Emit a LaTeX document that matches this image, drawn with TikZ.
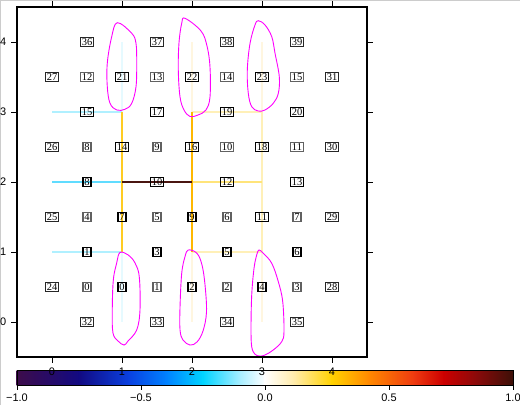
\documentclass[tikz,border=0pt]{standalone}
\usepackage{fontspec}
\setmainfont{Liberation Serif}
\setsansfont{Liberation Sans}
\definecolor{cbA}{HTML}{3D0C4A}
\definecolor{cbB}{HTML}{120A82}
\definecolor{cbC}{HTML}{0A40E0}
\definecolor{cbD}{HTML}{0080FF}
\definecolor{cbE}{HTML}{00D4FF}
\definecolor{cbF}{HTML}{A8EEFF}
\definecolor{cbG}{HTML}{FFFFFF}
\definecolor{cbH}{HTML}{FFEBA8}
\definecolor{cbI}{HTML}{FFD200}
\definecolor{cbJ}{HTML}{FF8800}
\definecolor{cbK}{HTML}{EE3A10}
\definecolor{cbL}{HTML}{CC0000}
\definecolor{cbM}{HTML}{8C0A0A}
\definecolor{cbN}{HTML}{3C1008}
\definecolor{lcyan}{HTML}{B0F0FF}
\definecolor{mcyan}{HTML}{60DCFF}
\definecolor{gold1}{HTML}{FFCC22}
\definecolor{gold2}{HTML}{FFB800}
\definecolor{brownln}{HTML}{4A1510}
\definecolor{pyel}{HTML}{FFF0B8}
\definecolor{myel}{HTML}{FFE47A}
\definecolor{fcyan}{HTML}{E6FAFF}
\definecolor{fyel}{HTML}{FFF6E0}
\definecolor{mag}{HTML}{FF00FF}
\tikzset{
  lab/.style={font=\fontsize{10.5}{10.5}\selectfont, inner xsep=1.4bp, inner ysep=1.3bp, text height=7.1bp, text depth=0bp},
  facebox/.style={lab, draw=black, line width=1.2bp},
  cellbox/.style={lab, draw=black!62, line width=1.2bp},
  bndbox/.style={lab, draw=black!85, line width=0.8bp},
  meshedge/.style={line width=2bp},
  faintedge/.style={line width=1.5bp},
  contourline/.style={mag, line width=0.9bp},
  axlab/.style={font=\sffamily\fontsize{11}{11}\selectfont, inner sep=0pt},
}
\begin{document}
\begin{tikzpicture}[x=1bp,y=1bp]
\useasboundingbox (0,0) rectangle (520,405);
% screenshot border
\draw[gray!40, line width=1.5bp] (0.5,0) -- (0.5,404.5) -- (520,404.5);

% colour bar
\begin{scope}
\foreach \va/\vb/\ca/\cb in {-1.0/-0.75/cbA/cbB, -0.75/-0.55/cbB/cbC, -0.55/-0.40/cbC/cbD, -0.40/-0.25/cbD/cbE, -0.25/-0.10/cbE/cbF, -0.10/0.0/cbF/cbG, 0.0/0.12/cbG/cbH, 0.12/0.27/cbH/cbI, 0.27/0.42/cbI/cbJ, 0.42/0.60/cbJ/cbK, 0.60/0.72/cbK/cbL, 0.72/0.85/cbL/cbM, 0.85/1.0/cbM/cbN}{
  \shade[left color=\ca, right color=\cb] ({265+248*\va-0.3},20) rectangle ({265+248*\vb+0.3},35);
}
\end{scope}
\coordinate (cbsw) at (17,20);
\coordinate (cbne) at (513,35);
\draw[line width=0.8bp] (cbsw) rectangle (cbne);
\foreach \v/\t in {-1.0/{−1.0}, -0.5/{−0.5}, 0.0/{0.0}, 0.5/{0.5}, 1.0/{1.0}}{
  \draw[line width=0.8bp] ({265+248*\v},20) -- ({265+248*\v},15);
  \node[axlab] at ({265+248*\v},7) {\t};
}

\begin{scope}[shift={(52,83)}, x=70bp, y=70bp]
  \foreach \i in {0,...,4}{\foreach \j in {0,...,4}{\coordinate (v\i\j) at (\i,\j);}}
  % faint edges
  \draw[faintedge, fcyan] (v13) -- (v14);
  \draw[faintedge, fcyan] (v10) -- (v11);
  \draw[faintedge, fyel] (v23) -- (v24);
  \draw[faintedge, fyel] (v20) -- (v21);
  \draw[faintedge, fyel] (v33) -- (v34);
  \draw[faintedge, fyel] (v30) -- (v31);
  % coloured edges
  \draw[meshedge, lcyan] (v03) -- (v13);
  \draw[meshedge, lcyan] (v01) -- (v11);
  \draw[meshedge, mcyan] (v02) -- (v12);
  \draw[meshedge, pyel] (v23) -- (v33);
  \draw[meshedge, pyel] (v21) -- (v31);
  \draw[meshedge, pyel] (v31) -- (v33);
  \draw[meshedge, myel] (v22) -- (v32);
  \draw[meshedge, gold1] (v11) -- (v13);
  \draw[meshedge, gold2] (v21) -- (v23);
  \draw[meshedge, brownln] (v12) -- (v22);

  % magenta contours
  \draw[contourline] plot[smooth cycle, tension=0.6] coordinates {(0.933,4.276) (1.139,4.124) (1.2,3.98) (1.21,3.70) (1.2,3.36) (1.139,3.124) (1.043,3.039) (0.924,3.029) (0.829,3.124) (0.79,3.36) (0.79,3.70) (0.853,4.076)};
  \draw[contourline] plot[smooth cycle, tension=0.6] coordinates {(1.9,4.339) (2.129,4.157) (2.214,3.943) (2.257,3.643) (2.257,3.214) (2.2,3.029) (2.086,2.957) (1.971,2.936) (1.886,3.029) (1.829,3.214) (1.804,3.6) (1.814,3.986) (1.853,4.267)};
  \draw[contourline] plot[smooth cycle, tension=0.6] coordinates {(2.947,4.304) (3.043,4.243) (3.139,4.076) (3.186,3.839) (3.247,3.504) (3.233,3.267) (3.161,3.124) (3.043,3.029) (2.947,3.014) (2.853,3.076) (2.804,3.267) (2.79,3.6) (2.829,3.981) (2.9,4.243)};
  \draw[contourline] plot[smooth cycle, tension=0.6] coordinates {(0.971,0.993) (1.09,0.957) (1.186,0.843) (1.247,0.643) (1.257,0.171) (1.21,-0.114) (1.086,-0.271) (1.029,-0.329) (0.943,-0.271) (0.871,-0.157) (0.861,0.171) (0.876,0.6) (0.924,0.843)};
  \draw[contourline] plot[smooth cycle, tension=0.6] coordinates {(1.947,1.029) (2.071,0.981) (2.143,0.814) (2.186,0.529) (2.207,0.143) (2.157,-0.129) (2.071,-0.286) (1.971,-0.329) (1.871,-0.257) (1.829,-0.114) (1.829,0.219) (1.853,0.696) (1.9,0.933)};
  \draw[contourline] plot[smooth cycle, tension=0.6] coordinates {(2.957,1.029) (3.019,0.981) (3.139,0.839) (3.233,0.576) (3.296,0.29) (3.314,-0.139) (3.281,-0.281) (3.161,-0.4) (3.043,-0.471) (2.971,-0.486) (2.9,-0.461) (2.853,-0.353) (2.843,-0.09) (2.853,0.386) (2.886,0.767) (2.924,0.957)};

  % frame and ticks
  \coordinate (fsw) at (-0.5,-0.5);
  \coordinate (fne) at (4.5,4.5);
  \draw[line width=1.5bp] (fsw) rectangle (fne);
  \foreach \k in {0,...,4}{
    \draw[line width=0.8bp] (\k,-0.5) -- ++(0,-6bp);
    \draw[line width=0.8bp] (\k,4.5) -- ++(0,6bp);
    \draw[line width=0.8bp] (-0.5,\k) -- ++(-6bp,0);
    \draw[line width=0.8bp] (4.5,\k) -- ++(6bp,0);
  }

  % cell labels
  \foreach \k in {0,...,15}{
    \pgfmathtruncatemacro{\cx}{mod(\k,4)}
    \pgfmathtruncatemacro{\cy}{div(\k,4)}
    \node[cellbox] (c\k) at (\cx+0.5,\cy+0.5) {\k};
  }
  % interior face labels
  \foreach \k/\p in {0/{1,0.5}, 1/{0.5,1}, 2/{2,0.5}, 3/{1.5,1}, 4/{3,0.5}, 5/{2.5,1}, 6/{3.5,1}, 7/{1,1.5}, 8/{0.5,2}, 9/{2,1.5}, 10/{1.5,2}, 11/{3,1.5}, 12/{2.5,2}, 13/{3.5,2}, 14/{1,2.5}, 15/{0.5,3}, 16/{2,2.5}, 17/{1.5,3}, 18/{3,2.5}, 19/{2.5,3}, 20/{3.5,3}, 21/{1,3.5}, 22/{2,3.5}, 23/{3,3.5}}{
    \node[facebox] (f\k) at (\p) {\k};
  }
  % boundary face labels
  \foreach \k/\p in {24/{0,0.5}, 25/{0,1.5}, 26/{0,2.5}, 27/{0,3.5}, 28/{4,0.5}, 29/{4,1.5}, 30/{4,2.5}, 31/{4,3.5}, 32/{0.5,0}, 33/{1.5,0}, 34/{2.5,0}, 35/{3.5,0}, 36/{0.5,4}, 37/{1.5,4}, 38/{2.5,4}, 39/{3.5,4}}{
    \node[bndbox] (b\k) at (\p) {\k};
  }
\end{scope}

% axis labels
\foreach \k in {0,...,4}{
  \node[axlab] (xl\k) at ({52+70*\k},33.5) {\k};
  \node[axlab, anchor=east] (yl\k) at (6.5,{83+70*\k}) {\k};
}
\end{tikzpicture}
\end{document}
